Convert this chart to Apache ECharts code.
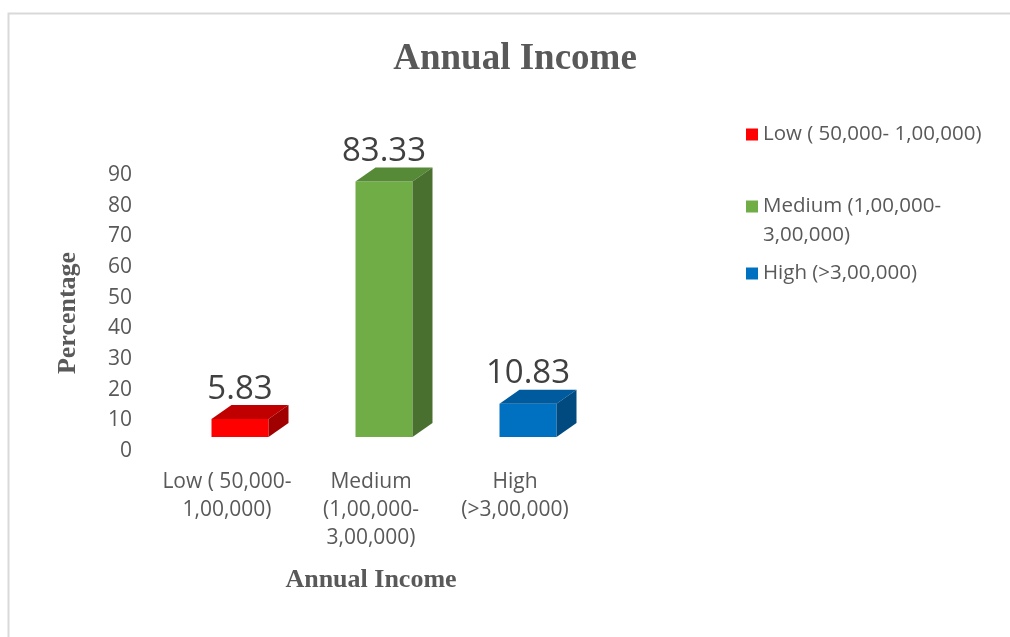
<!DOCTYPE html>
<html>
<head>
<meta charset="utf-8">
<script src="https://cdn.jsdelivr.net/npm/echarts@6/dist/echarts.min.js"></script>
<style>
  html, body { margin: 0; padding: 0; background: #fff; }
  #main { width: 1010px; height: 637px; }
</style>
</head>
<body>
<div id="main"></div>
<script>
var categories = ['Low ( 50,000-\n1,00,000)', 'Medium\n(1,00,000-\n3,00,000)', 'High\n(>3,00,000)'];
var legendNames = ['Low ( 50,000- 1,00,000)', 'Medium (1,00,000-\n3,00,000)', 'High (>3,00,000)'];
var values = [5.83, 83.33, 10.83];
var frontColors = ['#ff0000', '#70ad47', '#0070c0'];
var topColors = ['#c00000', '#568a36', '#005a9e'];
var sideColors = ['#a00000', '#4a7030', '#004a80'];

// legend boxes (second one gets an empty first line so the icon sits on its first text line)
var legendTops = [120, 163, 259];
var font = '"Open Sans", Lato, sans-serif';
var serif = '"Liberation Serif", "DejaVu Serif", serif';

function renderItem(params, api) {
  var k = params.seriesIndex;
  var i = api.value(0), v = api.value(1);
  var p0 = api.coord([i, 0]);
  var p1 = api.coord([i, v]);
  var w = 57, dx = 20, dy = 14, lift = 14;
  var cx = p0[0] + 13;
  var yb = p0[1] - lift, yt = p1[1] - lift;
  var xl = cx - w / 2, xr = cx + w / 2;
  return {
    type: 'group',
    children: [
      { type: 'rect', shape: { x: xl, y: yt, width: w, height: yb - yt }, style: { fill: frontColors[k] } },
      { type: 'polygon', shape: { points: [[xl, yt], [xr, yt], [xr + dx, yt - dy], [xl + dx, yt - dy]] }, style: { fill: topColors[k] } },
      { type: 'polygon', shape: { points: [[xr, yt], [xr + dx, yt - dy], [xr + dx, yb - dy], [xr, yb]] }, style: { fill: sideColors[k] } },
      { type: 'text', x: cx, y: yt - dy - 16, style: { text: v.toFixed(2), fill: '#404040', font: '33px ' + font, align: 'center', verticalAlign: 'middle' } }
    ]
  };
}

var myChart = echarts.init(document.getElementById('main'));
var option = {
  backgroundColor: '#fff',
  animation: false,
  title: {
    text: 'Annual Income',
    left: 510,
    top: 36,
    textAlign: 'center',
    textStyle: { fontFamily: serif, fontWeight: 'bold', fontSize: 37, color: '#595959' }
  },
  graphic: [{
    type: 'rect',
    shape: { x: 8.5, y: 13.5, width: 1100, height: 700 },
    style: { fill: 'none', stroke: '#d9d9d9', lineWidth: 2 }
  }],
  legend: legendNames.map(function (n, k) {
    return {
      data: [n],
      left: 746,
      top: legendTops[k],
      padding: 0,
      icon: 'rect',
      itemWidth: 12,
      itemHeight: 12,
      formatter: function (name) { return k === 1 ? '\n' + name : name; },
      textStyle: { fontFamily: font, fontSize: 20.5, color: '#595959', lineHeight: 29 }
    };
  }),
  grid: { left: 155, width: 432, top: 175, bottom: 186 },
  xAxis: {
    type: 'category',
    data: categories,
    name: 'Annual Income',
    nameLocation: 'middle',
    nameGap: 116,
    nameTextStyle: { fontFamily: serif, fontWeight: 'bold', fontSize: 26, color: '#595959' },
    axisLine: { show: false },
    axisTick: { show: false },
    axisLabel: { margin: 17, fontFamily: font, fontSize: 21, color: '#595959', lineHeight: 28, interval: 0 }
  },
  yAxis: {
    type: 'value',
    min: 0,
    max: 90,
    interval: 10,
    name: 'Percentage',
    nameLocation: 'middle',
    nameGap: 74,
    nameTextStyle: { fontFamily: serif, fontWeight: 'bold', fontSize: 26, color: '#595959' },
    splitLine: { show: false },
    axisLine: { show: false },
    axisTick: { show: false },
    axisLabel: { margin: 23, padding: [4, 0, 0, 0], fontFamily: font, fontSize: 21, color: '#595959' }
  },
  series: legendNames.map(function (n, k) {
    return {
      type: 'custom',
      name: n,
      data: [[k, values[k]]],
      itemStyle: { color: frontColors[k] },
      encode: { x: 0, y: 1 },
      renderItem: renderItem
    };
  })
};
myChart.setOption(option);
</script>
</body>
</html>
